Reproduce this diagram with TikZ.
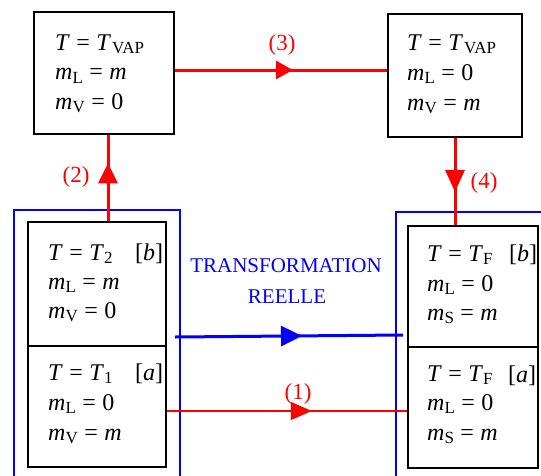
\documentclass[tikz,border=0pt]{standalone}
\usepackage{fontspec}
\setmainfont{Liberation Serif}
\usetikzlibrary{arrows.meta,decorations.markings}
\newcommand{\mi}[1]{\textit{#1}}
\newcommand{\myeq}{\kern0.27em=\kern0.27em}
\newcommand{\mysub}[1]{\raisebox{-3.5pt}{\fontsize{17}{17}\selectfont #1}}
\tikzset{
  box/.style={draw=black,line width=1.6pt,rectangle,inner sep=0pt},
  txt/.style={anchor=base west,inner sep=0pt,text height=16pt,text depth=6pt,font=\fontsize{24}{28}\selectfont},
  lbl/.style={anchor=base,inner sep=0pt,text=red,font=\fontsize{23}{28}\selectfont},
  bluetxt/.style={anchor=base,inner sep=0pt,text=blue,font=\fontsize{21}{24}\selectfont},
  thickred/.style={draw=red,line width=3pt},
  thinred/.style={draw=red,line width=1.5pt},
  bluerect/.style={draw=blue,line width=1.6pt},
  blueline/.style={draw=blue,line width=3pt},
  midarrow/.style n args={4}{postaction={decorate},decoration={markings,
     mark=at position #1 with {\arrow{Triangle[length=#2pt,width=#3pt,color=#4]}}}}
}
\begin{document}
\begin{tikzpicture}[x=1pt,y=-1pt]
\useasboundingbox (0,0) rectangle (541,475);
% blue frames
\draw[bluerect] (14,480) -- (14,210) -- (180,210) -- (180,480);
\draw[bluerect] (396,480) -- (396,212) -- (545,212);
% boxes
\node[box,minimum width=140pt,minimum height=122pt] (vapL) at (104,73) {};
\node[box,minimum width=134pt,minimum height=123pt] (vapR) at (455,75.5) {};
\node[box,minimum width=138pt,minimum height=124pt] (bL) at (97,284) {};
\node[box,minimum width=138pt,minimum height=121pt] (aL) at (97,406.5) {};
\node[box,minimum width=130pt,minimum height=121pt] (bR) at (473,286.5) {};
\node[box,minimum width=130pt,minimum height=121pt] (aR) at (473,407.5) {};
% texts
\node[txt] (t1) at (55,50) {\mi{T}\myeq\mi{T}\kern1pt\mysub{VAP}};
\node[txt] (t2) at (55,79.5) {\mi{m}\mysub{L}\myeq\mi{m}};
\node[txt] (t3) at (55,109) {\mi{m}\mysub{V}\myeq0};
\node[txt] (t4) at (407,50) {\mi{T}\myeq\mi{T}\kern1pt\mysub{VAP}};
\node[txt] (t5) at (407,80) {\mi{m}\mysub{L}\myeq0};
\node[txt] (t6) at (407,110) {\mi{m}\mysub{V}\myeq\mi{m}};
\node[txt] (t7) at (48,260) {\makebox[115pt][l]{\mi{T}\myeq\mi{T}\mysub{2}\hfill[\mi{b}]}};
\node[txt] (t8) at (48,289) {\mi{m}\mysub{L}\myeq\mi{m}};
\node[txt] (t9) at (48,318) {\mi{m}\mysub{V}\myeq0};
\node[txt] (t10) at (48,380) {\makebox[115pt][l]{\mi{T}\myeq\mi{T}\mysub{1}\hfill[\mi{a}]}};
\node[txt] (t11) at (48,410) {\mi{m}\mysub{L}\myeq0};
\node[txt] (t12) at (48,440) {\mi{m}\mysub{V}\myeq\mi{m}};
\node[txt] (t13) at (427,261) {\makebox[110pt][l]{\mi{T}\myeq\mi{T}\mysub{F}\hfill[\mi{b}]}};
\node[txt] (t14) at (427,291) {\mi{m}\mysub{L}\myeq0};
\node[txt] (t15) at (427,320) {\mi{m}\mysub{S}\myeq\mi{m}};
\node[txt] (t16) at (427,381) {\makebox[109pt][l]{\mi{T}\myeq\mi{T}\mysub{F}\hfill\raisebox{-1pt}{[\mi{a}]}}};
\node[txt] (t17) at (427,410) {\mi{m}\mysub{L}\myeq0};
\node[txt] (t18) at (427,440) {\mi{m}\mysub{S}\myeq\mi{m}};
% labels
\node[lbl] (l3) at (282,50) {(3)};
\node[lbl] (l2) at (76,182) {(2)};
\node[lbl] (l4) at (484,188) {(4)};
\node[lbl] (l1) at (298,399) {(1)};
\node[bluetxt] (bt1) at (286,272) {TRANSFORMATION};
\node[bluetxt] (bt2) at (287,303) {REELLE};
% connector helper coordinates
\coordinate (y3) at (0,70);
\coordinate (x2) at (108,0);
\coordinate (y1) at (0,411);
\coordinate (bs) at (175,337);
\coordinate (be) at (403,335);
% connectors
\draw[thickred,midarrow={0.556}{17}{18}{red}] (vapL.east |- y3) -- (vapR.west |- y3);
\draw[thickred,midarrow={0.67}{20}{19}{red}] (bL.north -| x2) -- (vapL.south -| x2);
\draw[thickred,midarrow={0.62}{22}{19}{red}] (vapR.south) -- (bR.north -| vapR.south);
\draw[thinred,midarrow={0.603}{21}{18}{red}] (aL.east |- y1) -- (aR.west |- y1);
\draw[blueline,midarrow={0.557}{21}{20}{blue}] (bs) -- (be);
\end{tikzpicture}
\end{document}
